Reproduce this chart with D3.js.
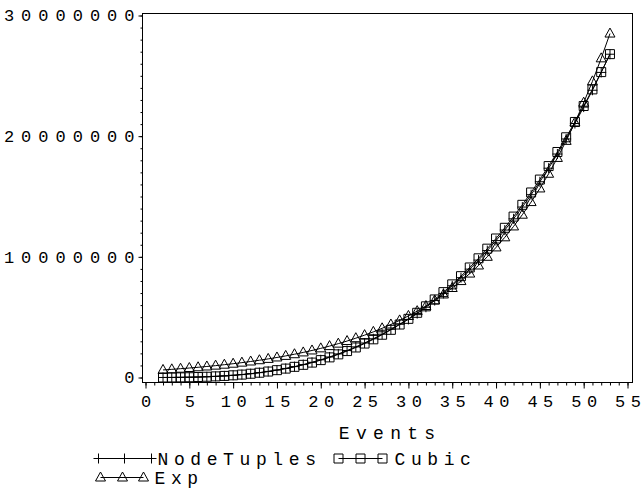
<!DOCTYPE html>
<html>
<head>
<meta charset="utf-8">
<script src="https://cdn.jsdelivr.net/npm/d3@7"></script>
<style>
  body { margin: 0; background: #fff; }
  text { font-family: "Liberation Mono", "Courier New", monospace; fill: #000; }
</style>
</head>
<body>
<div id="chart"></div>
<script>
// Data
const events = [2, 3, 4, 5, 6, 7, 8, 9, 10, 11, 12, 13, 14, 15, 16, 17, 18, 19, 20, 21,
    22, 23, 24, 25, 26, 27, 28, 29, 30, 31, 32, 33, 34, 35, 36, 37, 38, 39, 40, 41,
    42, 43, 44, 45, 46, 47, 48, 49, 50, 51, 52, 53];

const nodeTuples = [1500, 5000, 11800, 23000, 39700, 63000, 94000, 133800, 183600, 244400,
    317300, 403400, 503800, 619700, 752000, 902000, 1070800, 1259300, 1468800, 1700300,
    1955000, 2233900, 2538100, 2860000, 3209000, 3586000, 3991000, 4421000, 4811000, 5298000,
    5822000, 6378000, 6969000, 7602000, 8272000, 8981000, 9729000, 10517000, 11347000, 12220000,
    13149000, 14125000, 15149000, 16222000, 17345000, 18520000, 19767000, 21050000, 22410000, 23806000,
    25284000, 26790000];

const cubic = [1000, 5000, 12000, 23000, 39000, 62000, 92000, 131000, 180000, 240000,
    311000, 395000, 494000, 608000, 737000, 884000, 1050000, 1235000, 1440000, 1667000,
    1917000, 2190000, 2488000, 2813000, 3164000, 3543000, 3951000, 4390000, 4860000, 5362000,
    5898000, 6469000, 7075000, 7718000, 8398000, 9118000, 9877000, 10677000, 11520000, 12406000,
    13336000, 14311000, 15333000, 16403000, 17520000, 18688000, 19907000, 21177000, 22500000, 23877000,
    25309000, 26798000];

const expFit = [628000, 677000, 730000, 786000, 847000, 913000, 984000, 1061000, 1143000, 1232000,
    1327000, 1431000, 1542000, 1661000, 1790000, 1929000, 2079000, 2241000, 2415000, 2602000,
    2805000, 3022000, 3257000, 3510000, 3783000, 4077000, 4393000, 4734000, 5102000, 5498000,
    5925000, 6386000, 6882000, 7416000, 7992000, 8613000, 9282000, 10003000, 10780000, 11617000,
    12519000, 13491000, 14539000, 15668000, 16885000, 18197000, 19610000, 21133000, 22775000, 24543000,
    26450000, 28504000];

const xTicks = [0, 5, 10, 15, 20, 25, 30, 35, 40, 45, 50, 55];
const yTicks = [0, 10000000, 20000000, 30000000];

const xTitle = "Events";

// The svg
const width = 641;
const height = 489;
const frame = { left: 142, top: 13, right: 632, bottom: 382 };

const svg = d3.select("#chart")
    .append("svg")
    .attr("width", width)
    .attr("height", height);

// Scales
const x = d3.scaleLinear().domain([0, 55]).range([145, 627]);
const y = d3.scaleLinear().domain([0, 30000000]).range([377, 15]);

// frame
svg.append("rect")
    .attr("x", frame.left + 0.5)
    .attr("y", frame.top + 0.5)
    .attr("width", frame.right - frame.left)
    .attr("height", frame.bottom - frame.top)
    .attr("fill", "none")
    .attr("stroke", "#000");

const fontSize = 17;
const tickSpacing = 7;
const xTickSpacing = 5.5;
const titleSpacing = 6.3;
const legendSpacing = 5.6;

// wide letter spacing, but none after the last character
function spaced(sel, spacing) {
    sel.each(function () {
        const t = d3.select(this);
        const s = t.text();
        t.text(null);
        t.append("tspan").style("letter-spacing", spacing + "px").text(s.slice(0, -1));
        t.append("tspan").text(s.slice(-1));
    });
}

// x axis, minor then major ticks
const xMinor = svg.append("g")
    .attr("transform", `translate(0.5,${frame.bottom + 0.5})`)
    .call(d3.axisBottom(x).tickValues(d3.range(0, 56)).tickSize(3).tickFormat(""));
xMinor.select(".domain").remove();

const xAxis = svg.append("g")
    .attr("transform", `translate(0.5,${frame.bottom + 0.5})`)
    .call(d3.axisBottom(x).tickValues(xTicks).tickSize(6).tickPadding(6));
xAxis.select(".domain").remove();
xAxis.selectAll("text")
    .style("font-size", fontSize + "px")
    .style("font-family", "Liberation Mono")
    .call(spaced, xTickSpacing);

// y axis
const yMinor = svg.append("g")
    .attr("transform", `translate(${frame.left + 0.5},0.5)`)
    .call(d3.axisLeft(y).tickValues(d3.range(0, 30000001, 1000000)).tickSize(2).tickFormat(""));
yMinor.select(".domain").remove();

const yAxis = svg.append("g")
    .attr("transform", `translate(${frame.left + 0.5},0.5)`)
    .call(d3.axisLeft(y).tickValues(yTicks).tickSize(4).tickPadding(4).tickFormat(d3.format("d")));
yAxis.select(".domain").remove();
yAxis.selectAll("text")
    .style("font-size", fontSize + "px")
    .style("font-family", "Liberation Mono")
    .call(spaced, tickSpacing);

// axis title
svg.append("text")
    .attr("x", 387)
    .attr("y", 439)
    .attr("text-anchor", "middle")
    .style("font-size", (fontSize + 1) + "px")
    .text(xTitle)
    .call(spaced, titleSpacing);

// markers
const plusPath = "M-5,0H5M0,-5V5";
const squarePath = "M-4.5,-4.5H4.5V4.5H-4.5Z";
const trianglePath = "M0,-5.5L5,3.5H-5Z";

const series = [
    { name: "NodeTuples", values: nodeTuples, marker: plusPath },
    { name: "Cubic", values: cubic, marker: squarePath },
    { name: "Exp", values: expFit, marker: trianglePath }
];

const line = d3.line()
    .x((d, i) => x(events[i]))
    .y(d => y(d));

const plot = svg.append("g").attr("transform", "translate(0.5,0.5)");

series.forEach(function (s) {
    plot.append("path")
        .datum(s.values)
        .attr("d", line)
        .attr("fill", "none")
        .attr("stroke", "#000")
        .attr("stroke-width", 1);

    plot.append("g")
        .selectAll("path")
        .data(s.values)
        .enter()
        .append("path")
        .attr("transform", (d, i) => `translate(${x(events[i])},${y(d)})`)
        .attr("d", s.marker)
        .attr("fill", "none")
        .attr("stroke", "#000")
        .attr("stroke-width", 1);
});

// legend
const legendItems = [
    { s: series[0], xs: [98, 124, 151], ly: 458, tx: 157 },
    { s: series[1], xs: [338, 360, 382], ly: 458, tx: 394 },
    { s: series[2], xs: [100, 122, 143], ly: 477, tx: 154 }
];

const legend = svg.append("g").attr("transform", "translate(0.5,0.5)");
legendItems.forEach(function (item) {
    legend.append("line")
        .attr("x1", item.xs[0]).attr("x2", item.xs[2])
        .attr("y1", item.ly).attr("y2", item.ly)
        .attr("stroke", "#000");
    item.xs.forEach(function (mx) {
        legend.append("path")
            .attr("transform", `translate(${mx},${item.ly})`)
            .attr("d", item.s.marker)
            .attr("fill", "none")
            .attr("stroke", "#000");
    });
    legend.append("text")
        .attr("x", item.tx)
        .attr("y", item.ly + 6)
        .style("font-size", (fontSize + 1) + "px")
        .text(item.s.name)
        .call(spaced, legendSpacing);
});
</script>
</body>
</html>
